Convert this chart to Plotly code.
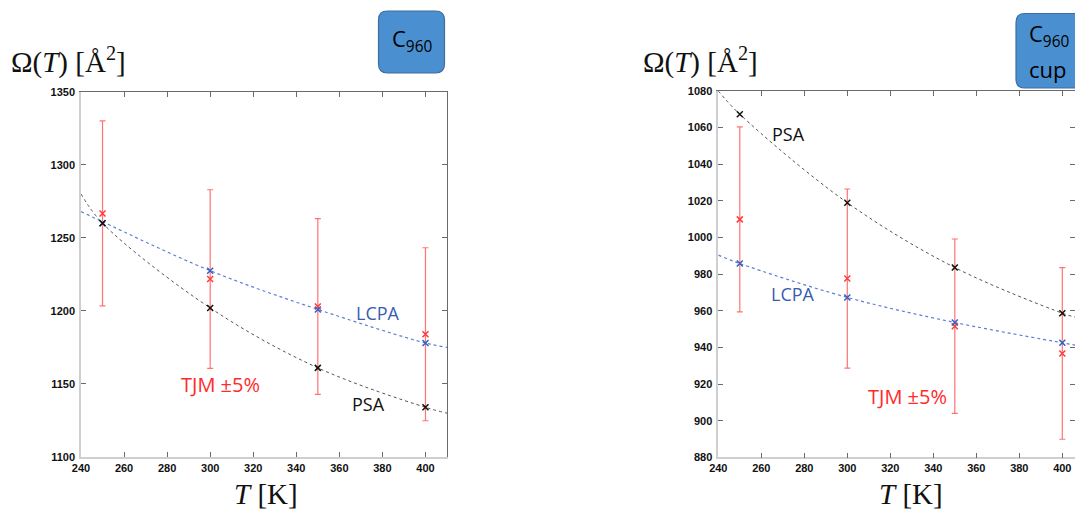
import plotly.graph_objects as go

W, H = 1075, 512

# ---------------- data ----------------
temps = [250, 300, 350, 400]

# Left panel: C960
left_psa = [1260, 1202, 1161, 1134]
left_lcpa = [1260, 1227.5, 1201, 1178]
left_tjm = [1266.7, 1221.8, 1203, 1184]
left_psa_fit_x = [240, 250, 300, 350, 400, 410]
left_psa_fit_y = [1280, 1260, 1202, 1161, 1134, 1130]
left_lcpa_fit_x = [240, 250, 300, 350, 400, 410]
left_lcpa_fit_y = [1268, 1261, 1227.5, 1201, 1178, 1175]

# Right panel: C960 cup
right_psa = [1067.3, 1019, 983.6, 958.7]
right_lcpa = [985.8, 967.3, 953.6, 942.5]
right_tjm = [1009.9, 977.6, 951.6, 936.7]
right_psa_fit_x = [240, 250, 300, 350, 400, 406]
right_psa_fit_y = [1080, 1067.3, 1019, 983.6, 958.7, 956.5]
right_lcpa_fit_x = [240, 250, 300, 350, 400, 406]
right_lcpa_fit_y = [990.4, 985.8, 967.3, 953.6, 942.5, 941.2]

tjm_error_percent = 5

x_ticks = [240, 260, 280, 300, 320, 340, 360, 380, 400]
left_y_ticks = [1100, 1150, 1200, 1250, 1300, 1350]
right_y_ticks = [880, 900, 920, 940, 960, 980, 1000, 1020, 1040, 1060, 1080]


def px(x):
    return x / W


def py(y):
    return 1 - y / H


BLACK_LINE = "#555555"
BLUE_LINE = "#5a7fd6"
BLUE_MK = "#3560c0"
RED_MK = "#ff3b3b"
RED_ERR = "rgba(255,90,90,0.85)"

fig = go.Figure()


def add_panel(xa, ya, psa, lcpa, tjm, pfx, pfy, lfx, lfy):
    # fitted curves
    fig.add_trace(go.Scatter(x=pfx, y=pfy, mode="lines", line=dict(color=BLACK_LINE, width=1, dash="dot", shape="spline"),
                             xaxis=xa, yaxis=ya, showlegend=False, hoverinfo="skip"))
    fig.add_trace(go.Scatter(x=lfx, y=lfy, mode="lines", line=dict(color=BLUE_LINE, width=1.2, dash="dot", shape="spline"),
                             xaxis=xa, yaxis=ya, showlegend=False, hoverinfo="skip"))
    # TJM with ±5% error bars
    fig.add_trace(go.Scatter(x=temps, y=tjm, mode="markers",
                             marker=dict(symbol="x-thin", size=6, line=dict(color=RED_MK, width=1.5)),
                             error_y=dict(type="percent", value=tjm_error_percent, color=RED_ERR, thickness=1.2, width=3),
                             xaxis=xa, yaxis=ya, showlegend=False))
    fig.add_trace(go.Scatter(x=temps, y=lcpa, mode="markers",
                             marker=dict(symbol="x-thin", size=6, line=dict(color=BLUE_MK, width=1.5)),
                             xaxis=xa, yaxis=ya, showlegend=False))
    fig.add_trace(go.Scatter(x=temps, y=psa, mode="markers",
                             marker=dict(symbol="x-thin", size=6, line=dict(color="#111111", width=1.5)),
                             xaxis=xa, yaxis=ya, showlegend=False))


add_panel("x", "y", left_psa, left_lcpa, left_tjm, left_psa_fit_x, left_psa_fit_y, left_lcpa_fit_x, left_lcpa_fit_y)
add_panel("x2", "y2", right_psa, right_lcpa, right_tjm, right_psa_fit_x, right_psa_fit_y, right_lcpa_fit_x, right_lcpa_fit_y)

# dummy traces to create the mirrored (top/right) axes
fig.add_trace(go.Scatter(x=[None], y=[None], xaxis="x3", yaxis="y3", showlegend=False, hoverinfo="skip"))
fig.add_trace(go.Scatter(x=[None], y=[None], xaxis="x4", yaxis="y4", showlegend=False, hoverinfo="skip"))

tickfont = dict(family="Liberation Sans", size=11, color="#111111", weight="bold")
LIGHT = "#cfcfcf"
DARK = "#6a6a6a"

L_dom_x = [px(81), px(447)]
L_dom_y = [py(457), py(91.7)]
R_dom_x = [px(718.3), 1.0]
R_dom_y = [py(457.3), py(91)]
L_xr = [240, 410]
L_yr = [1100, 1350]
R_xr = [240, 405.9]
R_yr = [880, 1080]

common_x = dict(ticks="inside", ticklen=5, tickcolor=DARK, showgrid=False, zeroline=False,
                tickvals=x_ticks, tickfont=tickfont, showline=True, linecolor=LIGHT, linewidth=1.5)
common_y = dict(ticks="inside", ticklen=5, tickcolor=DARK, showgrid=False, zeroline=False,
                tickfont=tickfont, showline=True, linecolor=LIGHT, linewidth=1.5, ticklabelstandoff=2)
mirror_x = dict(ticks="inside", ticklen=5, tickcolor=DARK, showgrid=False, zeroline=False, tickvals=x_ticks,
                showticklabels=False, showline=True, linecolor=DARK, linewidth=1, side="top")
mirror_y = dict(ticks="inside", ticklen=5, tickcolor=DARK, showgrid=False, zeroline=False,
                showticklabels=False, showline=True, linecolor=DARK, linewidth=1, side="right")

fig.update_layout(
    width=W, height=H,
    margin=dict(l=0, r=0, t=0, b=0, pad=0, autoexpand=False),
    paper_bgcolor="white", plot_bgcolor="white",
    xaxis=dict(domain=L_dom_x, range=L_xr, anchor="y", **common_x),
    yaxis=dict(domain=L_dom_y, range=L_yr, anchor="x", tickvals=left_y_ticks, **common_y),
    xaxis2=dict(domain=R_dom_x, range=R_xr, anchor="y2", **common_x),
    yaxis2=dict(domain=R_dom_y, range=R_yr, anchor="x2", tickvals=right_y_ticks, **common_y),
    xaxis3=dict(domain=L_dom_x, range=L_xr, anchor="y3", overlaying="x", **mirror_x),
    yaxis3=dict(domain=L_dom_y, range=L_yr, anchor="x3", overlaying="y", tickvals=left_y_ticks, **mirror_y),
    xaxis4=dict(domain=R_dom_x, range=R_xr, anchor="y4", overlaying="x2", **mirror_x),
    yaxis4=dict(domain=R_dom_y, range=R_yr, anchor="x4", overlaying="y2", tickvals=right_y_ticks, **mirror_y),
)


def rounded_rect(x0, y0, x1, y1, r):
    pts = [
        ("M", [(x0 + r, y0)]),
        ("L", [(x1 - r, y0)]),
        ("Q", [(x1, y0), (x1, y0 + r)]),
        ("L", [(x1, y1 - r)]),
        ("Q", [(x1, y1), (x1 - r, y1)]),
        ("L", [(x0 + r, y1)]),
        ("Q", [(x0, y1), (x0, y1 - r)]),
        ("L", [(x0, y0 + r)]),
        ("Q", [(x0, y0), (x0 + r, y0)]),
    ]
    s = ""
    for cmd, ps in pts:
        s += cmd + " " + " ".join(f"{px(a):.5f},{py(b):.5f}" for a, b in ps) + " "
    return s + "Z"


BOX_FILL = "#4a90d0"
BOX_LINE = "#3d6e9e"
fig.add_shape(type="path", xref="paper", yref="paper", path=rounded_rect(378.5, 11, 444.5, 73, 9),
              fillcolor=BOX_FILL, line=dict(color=BOX_LINE, width=1.2), layer="above")
fig.add_shape(type="path", xref="paper", yref="paper", path=rounded_rect(1016, 13.5, 1100, 88, 9),
              fillcolor=BOX_FILL, line=dict(color=BOX_LINE, width=1.2), layer="above")

box_font = dict(family="Open Sans", size=22, color="black")
fig.add_annotation(xref="paper", yref="paper", x=px(411.5), y=py(40), text="C<sub>960</sub>", showarrow=False,
                   font=box_font, xanchor="center", yanchor="middle")
fig.add_annotation(xref="paper", yref="paper", x=px(1027), y=py(35), text="C<sub>960</sub>", showarrow=False,
                   font=box_font, xanchor="left", yanchor="middle", align="left")
fig.add_annotation(xref="paper", yref="paper", x=px(1027), y=py(69), text="cup", showarrow=False,
                   font=box_font, xanchor="left", yanchor="middle", align="left")

# axis titles
title_font = dict(family="Liberation Serif", size=29, color="#111111")
ytitle = "Ω(<i>T</i>) [Å<sup>2</sup>]"
fig.add_annotation(xref="paper", yref="paper", x=px(9), y=py(60), text=ytitle, showarrow=False,
                   font=title_font, xanchor="left", yanchor="middle")
fig.add_annotation(xref="paper", yref="paper", x=px(641), y=py(60), text=ytitle, showarrow=False,
                   font=title_font, xanchor="left", yanchor="middle")
xtitle = "<i>T</i> [K]"
fig.add_annotation(xref="paper", yref="paper", x=px(266), y=py(494), text=xtitle, showarrow=False,
                   font=title_font, xanchor="center", yanchor="middle")
fig.add_annotation(xref="paper", yref="paper", x=px(911), y=py(494), text=xtitle, showarrow=False,
                   font=title_font, xanchor="center", yanchor="middle")

# series labels
labels = [
    ("LCPA", 378, 313, "#3a5cb0", 18),
    ("PSA", 368, 404, "#111111", 18),
    ("TJM ±5%", 220, 384, "#ff2a2a", 20),
    ("PSA", 788, 134, "#111111", 18),
    ("LCPA", 793, 294, "#3a5cb0", 18),
    ("TJM ±5%", 907, 396, "#ff2a2a", 20),
]
for t, x, y, c, s in labels:
    fig.add_annotation(xref="paper", yref="paper", x=px(x), y=py(y), text=t, showarrow=False,
                       font=dict(color=c, family="Open Sans", size=s), xanchor="center", yanchor="middle")

fig.write_html("out.html")
